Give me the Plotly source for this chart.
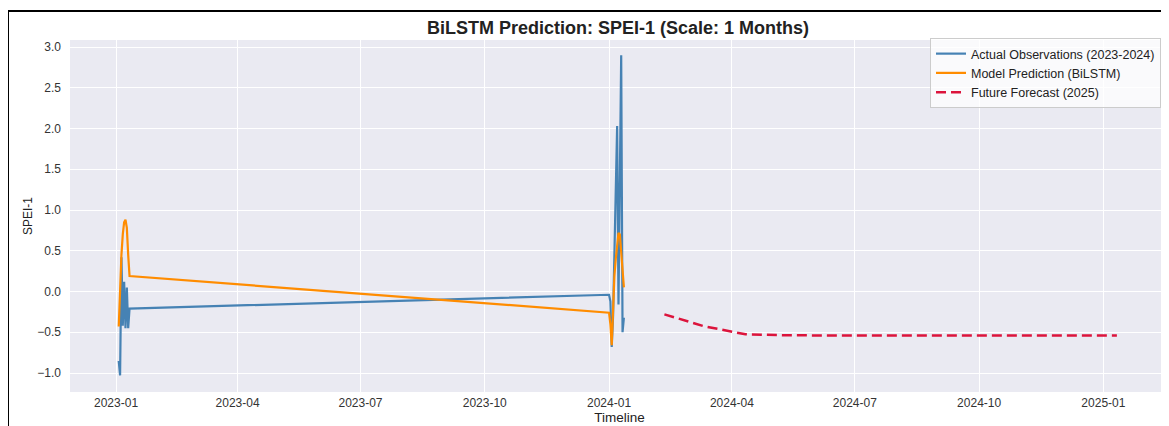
import plotly.graph_objects as go

# ---------------- data ----------------
obs_dates = [
    "2023-01-03", "2023-01-04", "2023-01-05", "2023-01-06", "2023-01-07",
    "2023-01-08", "2023-01-09", "2023-01-10", "2023-01-11",
    "2024-01-01", "2024-01-02", "2024-01-03", "2024-01-04", "2024-01-05",
    "2024-01-06", "2024-01-07", "2024-01-08", "2024-01-09", "2024-01-10",
    "2024-01-11", "2024-01-12",
]
actual_values = [
    -0.85, -1.03, 0.42, -0.42, 0.12, -0.45, 0.05, -0.45, -0.21,
    -0.04, -0.12, -0.68, -0.30, 0.40, 1.15, 2.03, -0.16, 1.10, 2.90,
    -0.50, -0.32,
]
predicted_values = [
    -0.43, 0.15, 0.45, 0.70, 0.85, 0.88, 0.78, 0.45, 0.19,
    -0.26, -0.40, -0.66, -0.20, 0.20, 0.40, 0.60, 0.72, 0.70, 0.45,
    0.30, 0.05,
]
forecast_dates = [
    "2024-02-11", "2024-03-11", "2024-04-11", "2024-05-11", "2024-06-11",
    "2024-07-11", "2024-08-11", "2024-09-11", "2024-10-11", "2024-11-11",
    "2024-12-11", "2025-01-11",
]
forecast_values = [
    -0.28, -0.425, -0.525, -0.537, -0.539, -0.54,
    -0.54, -0.54, -0.54, -0.54, -0.54, -0.54,
]
y_ticks = [-1.0, -0.5, 0.0, 0.5, 1.0, 1.5, 2.0, 2.5, 3.0]

title_text = "BiLSTM Prediction: SPEI-1 (Scale: 1 Months)"
FONT = "Liberation Sans, Arial, sans-serif"

# page body has an 8px margin, so the figure is sized to end at the window edge
W, H = 1161, 418
ML, MT, MB, MR = 62, 32, 34, 0
PW = W - ML - MR
PH = H - MT - MB

fig = go.Figure()
fig.add_trace(go.Scatter(
    x=obs_dates, y=actual_values, mode="lines",
    name="Actual Observations (2023-2024)",
    line=dict(color="#4682B4", width=2.2),
))
fig.add_trace(go.Scatter(
    x=obs_dates, y=predicted_values, mode="lines",
    name="Model Prediction (BiLSTM)",
    line=dict(color="#FF8C00", width=2.2),
))
fig.add_trace(go.Scatter(
    x=forecast_dates, y=forecast_values, mode="lines",
    name="Future Forecast (2025)",
    line=dict(color="#DC143C", width=2.5, dash="10px,5px"),
))

# frame around the figure (left edge at page x=8, top at page y=11)
bx = (0 - ML) / PW
by = 1 + (MT - 3) / PH

fig.update_layout(
    width=W, height=H,
    margin=dict(l=ML, r=MR, t=MT, b=MB),
    paper_bgcolor="white",
    plot_bgcolor="#EAEAF2",
    font=dict(family=FONT, size=12, color="#333333"),
    title=dict(
        text=title_text, x=(610 / W), xanchor="center",
        y=1 - 20 / H, yanchor="middle",
        font=dict(family=FONT, size=18, color="#222222", weight="bold"),
    ),
    showlegend=True,
    legend=dict(
        x=1 - 8 / PW, xanchor="right", y=1 + 2 / PH, yanchor="top",
        bgcolor="rgba(255,255,255,0.75)", bordercolor="#CCCCCC", borderwidth=1,
        font=dict(family=FONT, size=12.5, color="#222222"),
        tracegroupgap=0,
    ),
    shapes=[
        dict(type="line", xref="paper", yref="paper",
             x0=bx, x1=bx, y0=by, y1=-0.3,
             line=dict(color="black", width=2)),
        dict(type="line", xref="paper", yref="paper",
             x0=bx, x1=1.1, y0=by, y1=by,
             line=dict(color="black", width=2)),
    ],
)

fig.update_xaxes(
    type="date",
    range=["2022-11-27 22:00", "2025-02-18 14:00"],
    tick0="2023-01-01", dtick="M3", tickformat="%Y-%m",
    showgrid=True, gridcolor="white", gridwidth=1,
    zeroline=False, showline=False, ticks="",
    ticklabelstandoff=2,
    tickfont=dict(size=12, color="#333333"),
    title=dict(text="Timeline", font=dict(size=13.5, color="#222222"), standoff=1),
)
fig.update_yaxes(
    range=[-1.233, 3.086],
    tickvals=y_ticks, tickformat=".1f",
    showgrid=True, gridcolor="white", gridwidth=1,
    zeroline=False, showline=False, ticks="",
    ticklabelstandoff=8,
    tickfont=dict(size=12, color="#333333"),
    title=dict(text="SPEI-1", font=dict(size=12, color="#222222"), standoff=2),
)

fig.write_html("out.html")
